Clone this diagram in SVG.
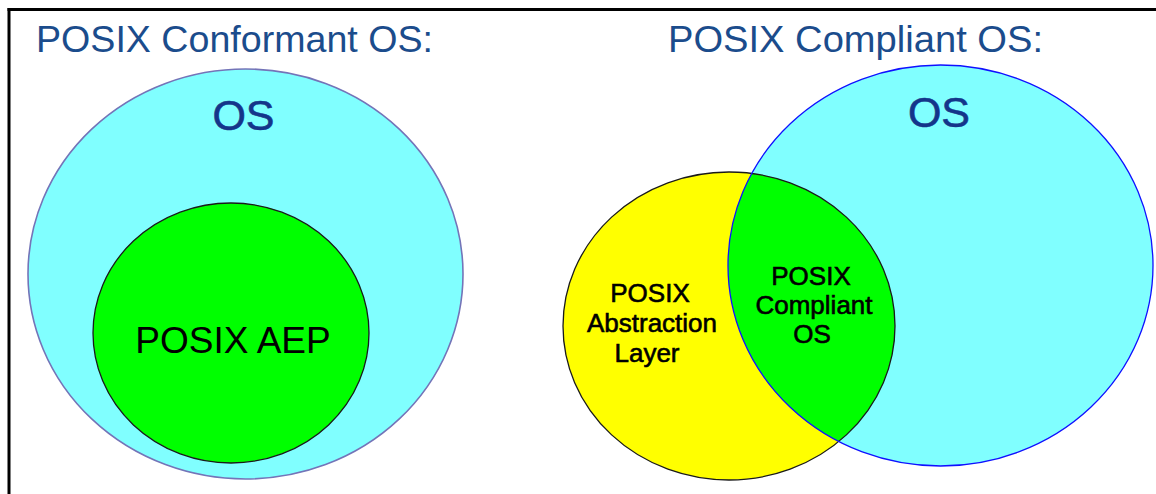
<svg xmlns="http://www.w3.org/2000/svg" width="1156" height="494" viewBox="0 0 1156 494">
  <style>
    .title { font-family: "Liberation Sans", Arial, sans-serif; font-size: 36px; fill: #1b4c8c; }
    .big { font-family: "Liberation Sans", Arial, sans-serif; font-size: 43px; fill: #14358a; stroke: #14358a; stroke-width: 0.6; text-anchor: middle; }
    .lbl { font-family: "Liberation Sans", Arial, sans-serif; font-size: 26px; fill: #000; stroke: #000; stroke-width: 0.6; text-anchor: middle; }
    .aep { font-family: "Liberation Sans", Arial, sans-serif; font-size: 37px; fill: #000; text-anchor: middle; }
  </style>
  <defs>
    <clipPath id="osClip">
      <ellipse cx="940.5" cy="265.5" rx="212.5" ry="200.5"/>
    </clipPath>
  </defs>

  <rect width="1156" height="494" fill="#ffffff"/>

  <!-- frame -->
  <g id="frame" stroke="#000" stroke-width="3" fill="none">
    <line x1="7.5" y1="9.5" x2="1156" y2="9.5"/>
    <line x1="9" y1="8" x2="9" y2="494"/>
  </g>

  <!-- titles -->
  <text id="title-conformant" class="title" x="36" y="52" textLength="397" lengthAdjust="spacingAndGlyphs">POSIX Conformant OS:</text>
  <text id="title-compliant" class="title" x="668" y="52" textLength="375" lengthAdjust="spacingAndGlyphs">POSIX Compliant OS:</text>

  <!-- conformant: OS containing the AEP -->
  <g id="conformant-os">
    <ellipse cx="245.5" cy="274" rx="217.5" ry="205" fill="#80ffff" stroke="#7474b8" stroke-width="1.6"/>
    <text class="big" x="243.5" y="130">OS</text>
  </g>
  <g id="posix-aep">
    <ellipse cx="231" cy="333" rx="138" ry="130" fill="#00ff00" stroke="#1a1a1a" stroke-width="1.3"/>
    <text class="aep" x="233" y="353">POSIX AEP</text>
  </g>

  <!-- compliant: abstraction layer overlapping the OS -->
  <g id="abstraction-layer">
    <ellipse cx="729" cy="326" rx="166" ry="154" fill="#ffff00"/>
  </g>
  <g id="compliant-os">
    <ellipse cx="940.5" cy="265.5" rx="212.5" ry="200.5" fill="#80ffff"/>
  </g>
  <g id="overlap">
    <ellipse cx="729" cy="326" rx="166" ry="154" fill="#00ff00" clip-path="url(#osClip)"/>
  </g>
  <g id="outlines" fill="none">
    <ellipse cx="729" cy="326" rx="166" ry="154" stroke="#1a1a1a" stroke-width="1.3"/>
    <ellipse cx="940.5" cy="265.5" rx="212.5" ry="200.5" stroke="#1010ff" stroke-width="1.3"/>
  </g>

  <g id="labels">
    <text class="big" x="939" y="127">OS</text>
    <text class="lbl" x="650" y="302">POSIX</text>
    <text class="lbl" x="652" y="332">Abstraction</text>
    <text class="lbl" x="647" y="362">Layer</text>
    <text class="lbl" x="811" y="285">POSIX</text>
    <text class="lbl" x="814" y="314">Compliant</text>
    <text class="lbl" x="812" y="343">OS</text>
  </g>
</svg>
